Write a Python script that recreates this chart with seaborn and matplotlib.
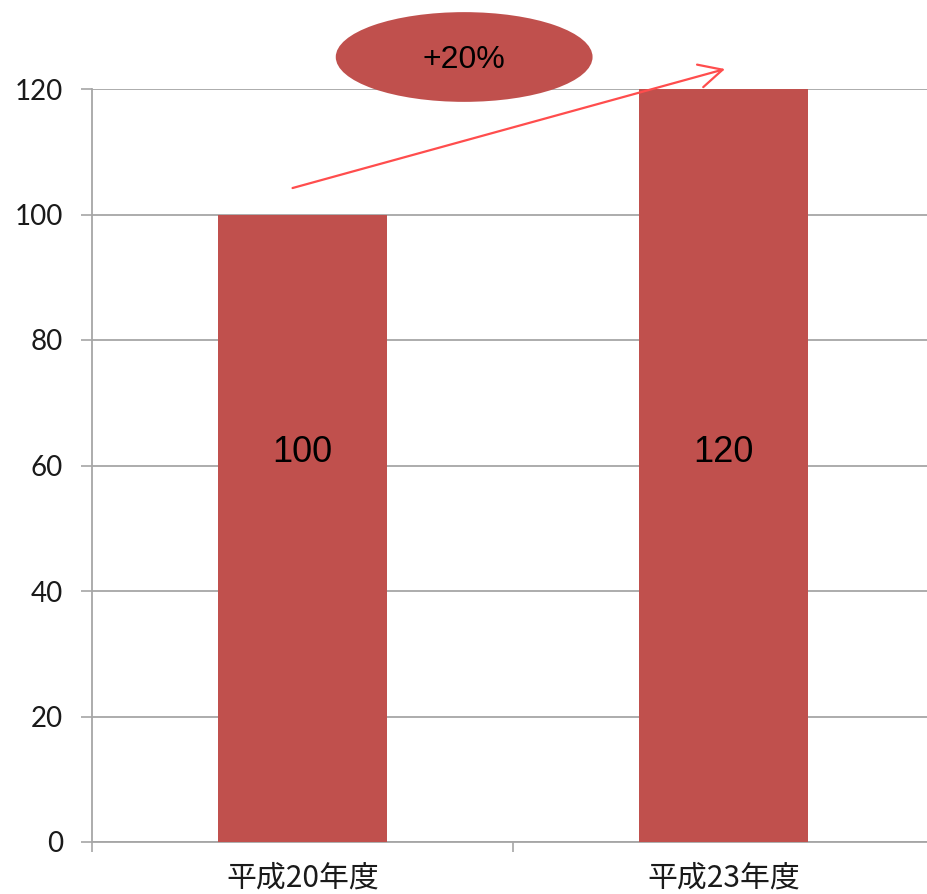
import matplotlib
matplotlib.use("Agg")
import matplotlib.pyplot as plt
from matplotlib.patches import Ellipse
from matplotlib.ticker import FixedLocator
import pandas as pd
import seaborn as sns

# Data
categories = ["平成20年度", "平成23年度"]
values = [100, 120]
y_ticks = [0, 20, 40, 60, 80, 100, 120]

BAR_COLOR = "#C0504D"
GRID_COLOR = "#A6A6A6"
ARROW_COLOR = "#FF4D4D"

sns.set_style("white")
plt.rcParams["font.family"] = ["Lato", "DejaVu Sans"]

df = pd.DataFrame({"year": categories, "value": values})

fig = plt.figure(figsize=(9.28, 8.94), dpi=100)
ax = fig.add_axes([92 / 928, 52 / 894, 842 / 928, 753 / 894])

sns.barplot(data=df, x="year", y="value", color=BAR_COLOR, width=0.4,
            saturation=1, linewidth=0, ax=ax, zorder=3)

ax.set_xlim(-0.5, len(categories) - 0.5)
ax.set_ylim(0, 120)
ax.set_yticks(y_ticks)
ax.set_xlabel("")
ax.set_ylabel("")

# Horizontal gridlines
ax.yaxis.grid(True, color=GRID_COLOR, linewidth=1.3, zorder=0)
ax.xaxis.grid(False)
ax.set_axisbelow(True)

for side in ("top", "right"):
    ax.spines[side].set_visible(False)
for side in ("left", "bottom"):
    ax.spines[side].set_color(GRID_COLOR)
    ax.spines[side].set_linewidth(1.3)

# Y ticks
ax.tick_params(axis="y", which="major", direction="out", length=8,
               width=1.2, color=GRID_COLOR, pad=13, labelsize=20,
               labelcolor="#1a1a1a", left=True)

# X ticks: labels at category centres, tick marks at category boundaries
ax.tick_params(axis="x", which="major", length=0, pad=15)
ax.xaxis.set_minor_locator(FixedLocator([-0.5, 0.5, 1.5]))
ax.tick_params(axis="x", which="minor", direction="out", length=7.5,
               width=1.2, color=GRID_COLOR, bottom=True)
for lbl in ax.get_xticklabels():
    lbl.set_family(["Noto Sans CJK JP", "DejaVu Sans"])
    lbl.set_fontsize(21.5)
    lbl.set_color("#1a1a1a")

# Value labels inside the bars
for i, v in enumerate(values):
    ax.text(i, 62, f"{v}", ha="center", va="center", fontsize=26,
            family=["Liberation Sans", "DejaVu Sans"], color="black",
            zorder=5)

# Growth arrow and badge
ax.annotate("", xy=(1.01, 123.3), xytext=(-0.03, 104.1),
            arrowprops=dict(arrowstyle="->", color=ARROW_COLOR, lw=1.6,
                            mutation_scale=42),
            annotation_clip=False, zorder=6)

change = (values[1] / values[0] - 1) * 100
badge = Ellipse((0.384, 125.1), width=0.61, height=14.3,
                facecolor=BAR_COLOR, edgecolor="none", clip_on=False,
                zorder=7)
ax.add_patch(badge)
ax.text(0.384, 124.7, f"+{change:.0f}%", ha="center", va="center",
        fontsize=23, family=["Liberation Sans", "DejaVu Sans"],
        color="black", zorder=8, clip_on=False)

fig.savefig("out.png", dpi=100)
